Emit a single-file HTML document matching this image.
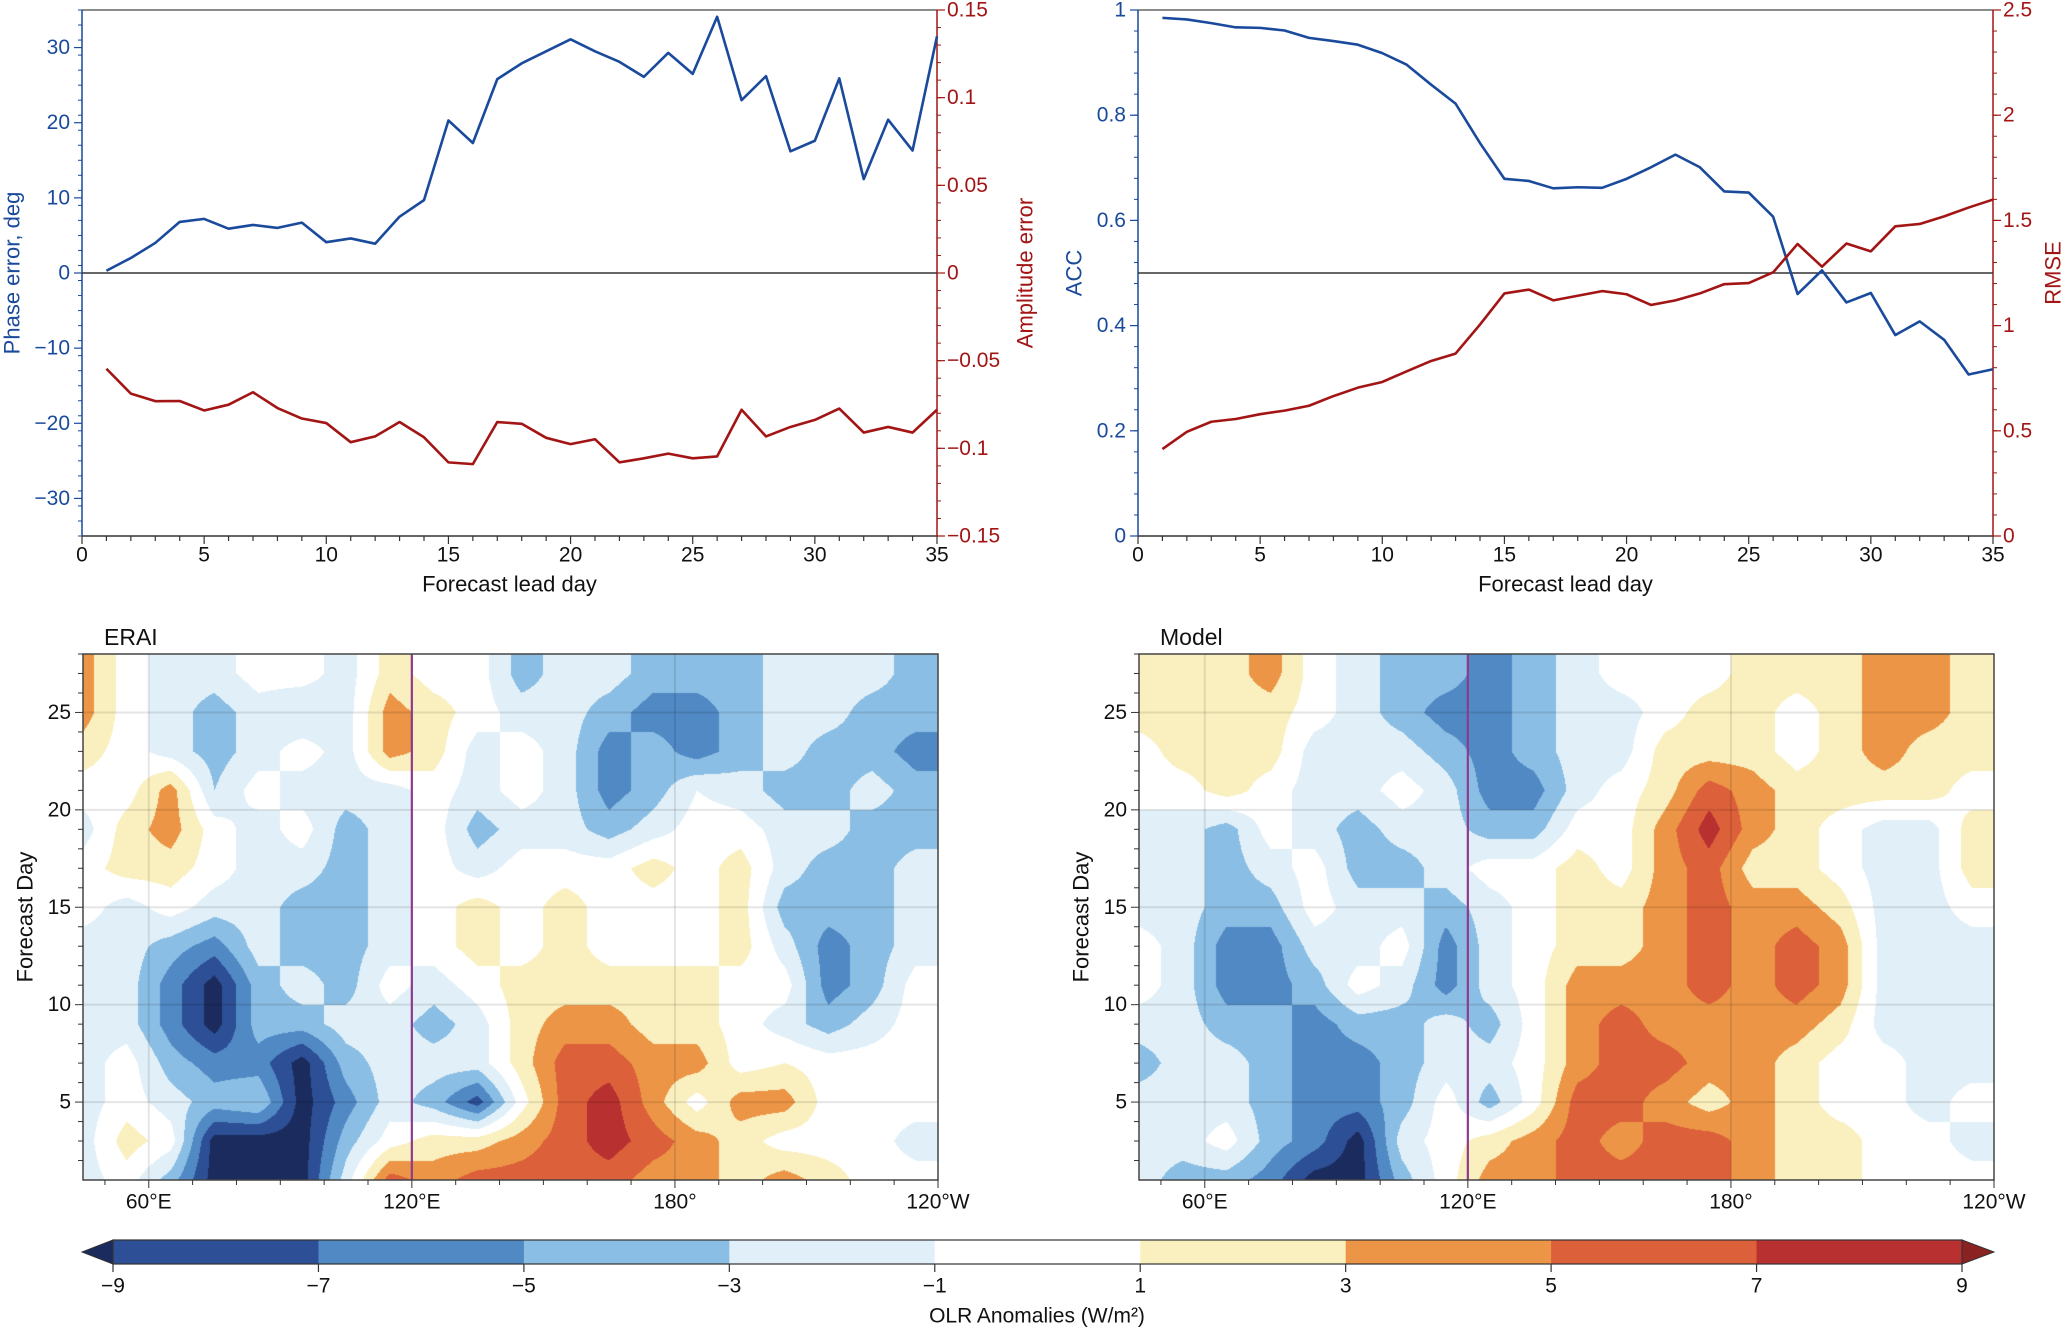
<!DOCTYPE html>
<html><head><meta charset="utf-8"><title>MJO forecast verification</title>
<style>
html,body{margin:0;padding:0;background:#fff;}
#wrap{position:relative;width:2067px;height:1330px;overflow:hidden;font-family:"Liberation Sans",Arial,sans-serif;}
canvas{position:absolute;}
svg{position:absolute;left:0;top:0;}
text{font-family:"Liberation Sans",Arial,sans-serif;}
</style></head>
<body>
<div id="wrap">
<canvas id="mapL" width="855" height="526" style="left:83px;top:654px"></canvas>
<canvas id="mapR" width="855" height="526" style="left:1139px;top:654px"></canvas>
<svg id="svg" width="2067" height="1330" xmlns="http://www.w3.org/2000/svg"></svg>
</div>
<script>
const days = [1,2,3,4,5,6,7,8,9,10,11,12,13,14,15,16,17,18,19,20,21,22,23,24,25,26,27,28,29,30,31,32,33,34,35];
const phaseError = [0.3,2,4,6.8,7.2,5.9,6.4,6.0,6.7,4.1,4.6,3.9,7.5,9.7,20.3,17.3,25.8,27.9,29.5,31.1,29.5,28.1,26.1,29.3,26.5,34.1,23.0,26.2,16.2,17.6,25.9,12.5,20.4,16.3,31.5];
const amplitudeError = [-0.0546,-0.0688,-0.0731,-0.073,-0.0784,-0.0751,-0.068,-0.077,-0.083,-0.0856,-0.0965,-0.0932,-0.085,-0.0937,-0.108,-0.109,-0.085,-0.086,-0.094,-0.0976,-0.0948,-0.108,-0.1057,-0.103,-0.1057,-0.1046,-0.078,-0.0932,-0.0878,-0.0838,-0.0773,-0.091,-0.0878,-0.091,-0.078];
const accValues = [0.985,0.982,0.975,0.967,0.966,0.961,0.947,0.941,0.934,0.918,0.896,0.858,0.822,0.747,0.679,0.675,0.661,0.663,0.662,0.679,0.701,0.725,0.701,0.655,0.653,0.607,0.460,0.505,0.444,0.462,0.382,0.408,0.373,0.307,0.317];
const rmseValues = [0.413,0.495,0.543,0.556,0.579,0.596,0.619,0.665,0.705,0.732,0.783,0.832,0.867,1.005,1.153,1.171,1.120,1.142,1.164,1.149,1.098,1.120,1.153,1.197,1.202,1.253,1.388,1.280,1.390,1.353,1.472,1.483,1.519,1.561,1.599];
const dayTicks = [0,5,10,15,20,25,30,35];
const phaseTicks = [-30,-20,-10,0,10,20,30];
const phaseTickLabels = ['\u221230','\u221220','\u221210','0','10','20','30'];
const ampTicks = [-0.15,-0.1,-0.05,0,0.05,0.1,0.15];
const ampTickLabels = ['\u22120.15','\u22120.1','\u22120.05','0','0.05','0.1','0.15'];
const accTicks = [0,0.2,0.4,0.6,0.8,1];
const accTickLabels = ['0','0.2','0.4','0.6','0.8','1'];
const rmseTicks = [0,0.5,1,1.5,2,2.5];
const rmseTickLabels = ['0','0.5','1','1.5','2','2.5'];

const mapLons = [45,55,65,75,85,95,105,115,125,135,145,155,165,175,185,195,205,215,225,235,245];
const mapDays = [1,3,5,7,9,11,13,15,17,19,21,23,25,27,29];
const eraiValues = [
[-2,0,-4,-10,-10,-10,-2,6,4,6,6,6,6,4,4,2,4,2,0,0,0],
[-2,2,0,-10,-10,-10,-4,0,2,2,4,6,8,6,4,2,0,0,0,-2,-2],
[-2,0,-2,-4,-3,-10,-6,-2,-4,-8,0,6,8,4,0,4,4,0,0,0,0],
[-2,0,-4,-6,-6,-10,-4,-2,-2,-2,2,6,6,4,4,0,1,0,0,0,0],
[-2,-2,-6,-10,-4,-4,-2,-2,-4,-2,2,4,4,2,2,0,-2,-4,-2,0,0],
[-2,-2,-6,-10,-4,-2,-4,0,-2,0,2,2,2,2,2,0,0,-6,-4,0,0],
[-2,-2,-4,-6,-2,-4,-4,-2,0,2,0,2,0,0,0,2,-2,-6,-4,-2,-2],
[0,-2,0,-2,-2,-4,-4,-2,0,2,0,2,0,0,0,2,-4,-4,-4,-2,-2],
[0,2,2,0,-2,-2,-4,-2,0,-2,0,0,0,2,0,2,-2,-4,-4,-2,-2],
[-2,2,4,0,-2,0,-4,-2,0,-4,-2,-2,-4,-2,0,0,-2,-2,-4,-4,-4],
[0,0,4,-3,0,-2,-2,-2,0,-2,0,-2,-6,-4,-1,-2,-4,-4,-2,-4,-4],
[2,0,-2,-4,-2,0,-2,4,2,-2,0,-2,-6,-4,-6,-4,-2,-4,-4,-6,-6],
[4,0,-2,-4,-2,-3,-2,4,2,0,-2,-2,-4,-6,-6,-4,-2,-2,-4,-4,-4],
[4,0,-2,-2,0,0,-2,2,0,0,-4,-2,-2,-4,-4,-4,-2,-2,-2,-4,-4],
[4,0,-2,-2,0,0,-2,2,0,0,-4,-2,-2,-4,-4,-4,-2,-2,-2,-4,-4]
];
const modelValues = [
[-2,-4,-4,-6,-10,-10,-4,0,4,4,6,6,6,6,4,2,2,0,0,0,0],
[-2,-2,0,-4,-6,-10,-2,0,2,4,6,4,6,6,4,2,2,0,0,-2,-2],
[-2,-2,-2,-4,-6,-6,-4,0,-4,0,6,6,4,2,4,2,0,0,-2,0,0],
[-4,-2,-2,-4,-6,-6,-4,-2,-2,0,4,6,6,4,4,2,0,0,-2,-2,-2],
[-2,-2,-4,-4,-6,-4,-4,-2,-4,0,4,6,4,4,4,4,2,-2,-2,-2,-2],
[0,-2,-6,-6,-4,0,-2,-6,-2,0,4,4,4,6,4,6,4,-2,-2,-2,-2],
[0,-2,-6,-6,-2,-2,0,-6,-2,0,2,2,4,6,4,6,4,-2,-2,-2,-2],
[-2,-2,-4,-4,0,-2,-2,-4,-2,0,2,2,4,6,4,4,2,-2,-2,0,0],
[-2,-2,-4,-2,0,-4,-4,-2,0,0,2,0,4,6,2,2,0,-2,-2,2,2],
[-2,-2,-4,0,-2,-4,-2,-2,-4,-4,0,0,4,8,4,2,0,-2,-2,2,2],
[0,0,2,0,-2,-2,0,-2,-6,-6,-2,0,2,6,4,2,2,2,2,0,0],
[0,2,2,2,-2,-2,-2,-4,-6,-4,-2,-2,2,2,2,0,2,4,2,2,2],
[2,2,2,2,0,-2,-4,-6,-6,-4,-2,-2,0,2,2,0,2,4,4,2,2],
[2,2,2,4,0,-2,-4,-4,-6,-4,-2,0,0,0,2,2,2,4,4,2,2],
[2,2,2,4,0,-2,-4,-4,-6,-4,-2,0,0,0,2,2,2,4,4,2,2]
];
const cbarLevels = [-9,-7,-5,-3,-1,1,3,5,7,9];
const cbarLabels = ['\u22129','\u22127','\u22125','\u22123','\u22121','1','3','5','7','9'];
const mapDayTicks = [5,10,15,20,25];
const lonTicks = [60,120,180,240];
const lonTickLabels = ['60\u00b0E','120\u00b0E','180\u00b0','120\u00b0W'];

const binColors = ['#1b2b5e','#2d4f95','#5089c4','#8bbee4','#e1f0f8','#ffffff','#faf0bf','#ec9546','#dc603a','#b83030','#8a2222'];
function colorFor(v){
  let i=0; while(i<cbarLevels.length && v>=cbarLevels[i]) i++;
  return binColors[i];
}
const NS='http://www.w3.org/2000/svg';
const svg=document.getElementById('svg');
function el(tag,attrs,parent){
  const e=document.createElementNS(NS,tag);
  for(const k in attrs) e.setAttribute(k,attrs[k]);
  (parent||svg).appendChild(e); return e;
}
function txt(s,x,y,size,fill,anchor,parent,rot){
  const t=el('text',{x:x,y:y,'font-size':size,fill:fill,'text-anchor':anchor||'middle','dominant-baseline':'central'},parent);
  if(rot) t.setAttribute('transform','rotate('+rot+' '+x+' '+y+')');
  t.textContent=s; return t;
}
const BLUE='#1a4a9c', RED='#a31515';

function linePanel(name,x0,x1,y0,y1,lMin,lMax,rMin,rMax,lTicks,lLabels,rTicks,rLabels,lSeries,rSeries,refVal,lTitle,rTitle,lTitleX,rTitleX){
  const g=el('g',{});
  
  
  const sx=d=>x0+(d-0)/35*(x1-x0);
  const sl=v=>y1-(v-lMin)/(lMax-lMin)*(y1-y0);
  const sr=v=>y1-(v-rMin)/(rMax-rMin)*(y1-y0);
  // frame
  const top=el('line',{x1:x0,y1:y0,x2:x1,y2:y0,stroke:'#666','stroke-width':1.5},g);
  
  
  const bot=el('line',{x1:x0,y1:y1,x2:x1,y2:y1,stroke:'#333','stroke-width':1.5},g);
  
  
  const ls=el('line',{x1:x0,y1:y0,x2:x0,y2:y1,stroke:BLUE,'stroke-width':1.5},g);
  
  
  const rs=el('line',{x1:x1,y1:y0,x2:x1,y2:y1,stroke:RED,'stroke-width':1.5},g);
  
  
  // reference line
  const ref=el('line',{x1:x0,y1:sl(refVal),x2:x1,y2:sl(refVal),stroke:'#333','stroke-width':1.5},g);
  
  
  // x ticks
  for(let d=0; d<=35; d++){
    const major=d%5===0;
    el('line',{x1:sx(d),y1:y1,x2:sx(d),y2:y1+(major?8:5),stroke:'#333','stroke-width':1.2},g);
  }
  dayTicks.forEach(d=>{
    const t=txt(String(d),sx(d),y1+19,21,'#111','middle',g);
    
    
  });
  const xt=txt('Forecast lead day',(x0+x1)/2,y1+48,22,'#111','middle',g);
  
  
  // left ticks
  const lStep=(lTicks[1]-lTicks[0])/5;
  for(let v=lMin; v<=lMax+1e-9; v+=lStep){
    el('line',{x1:x0,y1:sl(v),x2:x0-4,y2:sl(v),stroke:BLUE,'stroke-width':1},g);
  }
  lTicks.forEach((v,i)=>{
    el('line',{x1:x0,y1:sl(v),x2:x0-8,y2:sl(v),stroke:BLUE,'stroke-width':1.2},g);
    const t=txt(lLabels[i],x0-12,sl(v),21,BLUE,'end',g);
    
    
  });
  const rStep=(rTicks[1]-rTicks[0])/5;
  for(let v=rMin; v<=rMax+1e-9; v+=rStep){
    el('line',{x1:x1,y1:sr(v),x2:x1+4,y2:sr(v),stroke:RED,'stroke-width':1},g);
  }
  rTicks.forEach((v,i)=>{
    el('line',{x1:x1,y1:sr(v),x2:x1+8,y2:sr(v),stroke:RED,'stroke-width':1.2},g);
    const t=txt(rLabels[i],x1+10,sr(v),21,RED,'start',g);
    
    
  });
  const lt=txt(lTitle,lTitleX,(y0+y1)/2,22,BLUE,'middle',g,-90);
  
  
  const rt=txt(rTitle,rTitleX,(y0+y1)/2,22,RED,'middle',g,-90);
  
  
  const lp=el('polyline',{points:days.map((d,i)=>sx(d)+','+sl(lSeries[i])).join(' '),fill:'none',stroke:BLUE,'stroke-width':2.6,'stroke-linejoin':'round'},g);
  
  
  const rp=el('polyline',{points:days.map((d,i)=>sx(d)+','+sr(rSeries[i])).join(' '),fill:'none',stroke:RED,'stroke-width':2.6,'stroke-linejoin':'round'},g);
  
  
}
linePanel('phase-amplitude-chart',82,937,10,536,-35,35,-0.15,0.15,phaseTicks,phaseTickLabels,ampTicks,ampTickLabels,phaseError,amplitudeError,0,'Phase error, deg','Amplitude error',12,1025);
linePanel('acc-rmse-chart',1138,1993,10,536,0,1,0,2.5,accTicks,accTickLabels,rmseTicks,rmseTickLabels,accValues,rmseValues,0.5,'ACC','RMSE',1074,2053);

// heatmaps
const LON0=45,LON1=240,DAY0=1,DAY1=28;
function sample(grid,lon,day){
  let i=0; while(i<mapLons.length-2 && lon>mapLons[i+1]) i++;
  let j=0; while(j<mapDays.length-2 && day>mapDays[j+1]) j++;
  const tx=Math.min(1,Math.max(0,(lon-mapLons[i])/(mapLons[i+1]-mapLons[i])));
  const ty=Math.min(1,Math.max(0,(day-mapDays[j])/(mapDays[j+1]-mapDays[j])));
  const a=grid[j][i],b=grid[j][i+1],c=grid[j+1][i],d=grid[j+1][i+1];
  return (a*(1-tx)+b*tx)*(1-ty)+(c*(1-tx)+d*tx)*ty;
}
function hexRGB(h){return [parseInt(h.substr(1,2),16),parseInt(h.substr(3,2),16),parseInt(h.substr(5,2),16)];}
const binRGB=binColors.map(hexRGB);
function drawMap(id,grid){
  const cv=document.getElementById(id), ctx=cv.getContext('2d');
  const W=cv.width,H=cv.height, img=ctx.createImageData(W,H);
  for(let y=0;y<H;y++){
    const day=DAY1-(y+0.5)/H*(DAY1-DAY0);
    for(let x=0;x<W;x++){
      const lon=LON0+(x+0.5)/W*(LON1-LON0);
      const v=sample(grid,lon,day);
      let k=0; while(k<cbarLevels.length && v>=cbarLevels[k]) k++;
      const c=binRGB[k], p=(y*W+x)*4;
      img.data[p]=c[0];img.data[p+1]=c[1];img.data[p+2]=c[2];img.data[p+3]=255;
    }
  }
  ctx.putImageData(img,0,0);
}
drawMap('mapL',eraiValues);
drawMap('mapR',modelValues);

function mapFrame(name,title,x0,x1,y0,y1){
  const g=el('g',{});
  
  
  const sx=l=>x0+(l-LON0)/(LON1-LON0)*(x1-x0);
  const sy=d=>y1-(d-DAY0)/(DAY1-DAY0)*(y1-y0);
  lonTicks.slice(0,3).forEach(l=>el('line',{x1:sx(l),y1:y0,x2:sx(l),y2:y1,stroke:'rgba(0,0,0,0.1)','stroke-width':2},g));
  mapDayTicks.forEach(d=>el('line',{x1:x0,y1:sy(d),x2:x1,y2:sy(d),stroke:'rgba(0,0,0,0.1)','stroke-width':2},g));
  const mer=el('line',{x1:sx(120),y1:y0,x2:sx(120),y2:y1,stroke:'#8e3b8e','stroke-width':2.2},g);
  
  
  const fr=el('rect',{x:x0,y:y0,width:x1-x0,height:y1-y0,fill:'none',stroke:'#444','stroke-width':1.5},g);
  
  
  for(let d=2; d<=28; d++){
    el('line',{x1:x0,y1:sy(d),x2:x0-(d%5===0?8:5),y2:sy(d),stroke:'#333','stroke-width':1},g);
  }
  mapDayTicks.forEach(d=>{
    const t=txt(String(d),x0-12,sy(d),21,'#111','end',g);
    
    
  });
  for(let l=50; l<=240; l+=10){
    el('line',{x1:sx(l),y1:y1,x2:sx(l),y2:y1+(l%60===0?8:5),stroke:'#333','stroke-width':1},g);
  }
  lonTicks.forEach((l,i)=>{
    const t=txt(lonTickLabels[i],sx(l),y1+22,21,'#111','middle',g);
    
    
  });
  const yt=txt('Forecast Day',x0-58,(y0+y1)/2,22,'#111','middle',g,-90);
  
  
  const tt=txt(title,x0+21,y0-17,23,'#111','start',g);
  
  
}
mapFrame('erai-panel','ERAI',83,938,654,1180);
mapFrame('model-panel','Model',1139,1994,654,1180);

// colorbar
(function(){
  const g=el('g',{});
  
  
  const cx0=113,cx1=1962,cy0=1240,cy1=1264;
  const sc=v=>cx0+(v-cbarLevels[0])/(cbarLevels[cbarLevels.length-1]-cbarLevels[0])*(cx1-cx0);
  for(let i=0;i<cbarLevels.length-1;i++){
    const r=el('rect',{x:sc(cbarLevels[i]),y:cy0,width:sc(cbarLevels[i+1])-sc(cbarLevels[i])+0.5,height:cy1-cy0,fill:binColors[i+1]},g);
    
    
  }
  const lt=el('polygon',{points:cx0+','+cy0+' '+cx0+','+cy1+' 82,'+((cy0+cy1)/2),fill:binColors[0],stroke:'#333','stroke-width':1},g);
  
  
  const rt=el('polygon',{points:cx1+','+cy0+' '+cx1+','+cy1+' 1994,'+((cy0+cy1)/2),fill:binColors[10],stroke:'#333','stroke-width':1},g);
  
  
  el('rect',{x:cx0,y:cy0,width:cx1-cx0,height:cy1-cy0,fill:'none',stroke:'#333','stroke-width':1.2},g);
  cbarLevels.forEach((v,i)=>{
    el('line',{x1:sc(v),y1:cy1,x2:sc(v),y2:cy1+8,stroke:'#333','stroke-width':1.2},g);
    const t=txt(cbarLabels[i],sc(v),cy1+22,21,'#111','middle',g);
    
    
  });
  const ct=txt('OLR Anomalies (W/m\u00b2)',1037,1316,21,'#111','middle',g);
  
  
})();
</script>
</body></html>
